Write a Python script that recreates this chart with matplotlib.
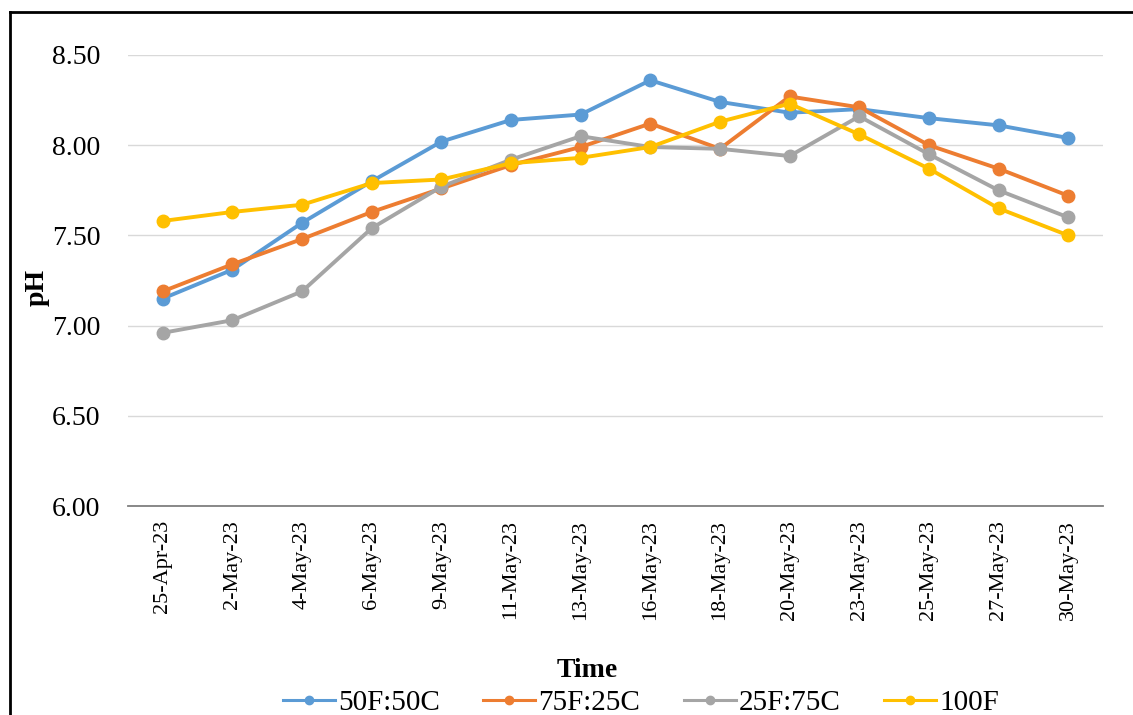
import matplotlib
matplotlib.use('Agg')
import matplotlib.pyplot as plt
from matplotlib.lines import Line2D

plt.rcParams['font.family'] = ['Liberation Serif', 'DejaVu Serif']

# sampling dates and pH readings per feed ratio
dates = ['25-Apr-23', '2-May-23', '4-May-23', '6-May-23', '9-May-23', '11-May-23', '13-May-23',
         '16-May-23', '18-May-23', '20-May-23', '23-May-23', '25-May-23', '27-May-23', '30-May-23']
ph_50f_50c = [7.15, 7.31, 7.57, 7.80, 8.02, 8.14, 8.17, 8.36, 8.24, 8.18, 8.20, 8.15, 8.11, 8.04]
ph_75f_25c = [7.19, 7.34, 7.48, 7.63, 7.76, 7.89, 7.99, 8.12, 7.98, 8.27, 8.21, 8.00, 7.87, 7.72]
ph_25f_75c = [6.96, 7.03, 7.19, 7.54, 7.77, 7.92, 8.05, 7.99, 7.98, 7.94, 8.16, 7.95, 7.75, 7.60]
ph_100f = [7.58, 7.63, 7.67, 7.79, 7.81, 7.90, 7.93, 7.99, 8.13, 8.23, 8.06, 7.87, 7.65, 7.50]

series = [('50F:50C', ph_50f_50c, '#5B9BD5'),
          ('75F:25C', ph_75f_25c, '#ED7D31'),
          ('25F:75C', ph_25f_75c, '#A5A5A5'),
          ('100F', ph_100f, '#FFC000')]

fig = plt.figure(figsize=(11.33, 7.15), dpi=100)
ax = fig.add_axes([128 / 1133, 1 - 506 / 715, (1103 - 128) / 1133, (506 - 55) / 715])

x = list(range(len(dates)))
handles = []
for name, vals, col in series:
    ax.plot(x, vals, color=col, lw=2.8, marker='o', ms=9, solid_capstyle='round')
    # smaller line/marker for the legend key
    handles.append(Line2D([], [], color=col, lw=2.2, marker='o', ms=6, label=name))

ax.set_xlim(-0.5, len(dates) - 0.5)
ax.set_ylim(6.0, 8.5)
yt = [6.0, 6.5, 7.0, 7.5, 8.0, 8.5]
ax.set_yticks(yt)
ax.set_yticklabels(['%.2f' % v for v in yt], fontsize=20)
ax.set_xticks(x)
ax.set_xticklabels(dates, rotation=90, fontsize=16)
ax.tick_params(axis='both', length=0)
ax.tick_params(axis='y', pad=20)
ax.tick_params(axis='x', pad=10)
ax.grid(axis='y', color='#D9D9D9', lw=1)
ax.set_axisbelow(True)
for s in ['top', 'right', 'left']:
    ax.spines[s].set_visible(False)
ax.spines['bottom'].set_color('#7F7F7F')
ax.spines['bottom'].set_linewidth(1.3)

ax.set_ylabel('pH', fontsize=20, fontweight='bold', labelpad=0)
ax.yaxis.set_label_coords(-78 / 975, (506 - 287) / 451)
ax.set_xlabel('Time', fontsize=20, fontweight='bold')
ax.xaxis.set_label_coords((587 - 128) / 975, -(658 - 506) / 451)

fig.legend(handles=handles, loc='center', bbox_to_anchor=(641 / 1133, 1 - 703 / 715), ncol=4,
           frameon=False, fontsize=21, handlelength=1.78, handletextpad=0.1, columnspacing=1.5)

# outer border of the chart area
x0 = 10 / 1133
y0 = 1 - 12 / 715
fig.add_artist(Line2D([x0, x0], [0, y0], transform=fig.transFigure, color='black', lw=2))
fig.add_artist(Line2D([x0, 1], [y0, y0], transform=fig.transFigure, color='black', lw=2))

fig.savefig('out.png', dpi=100, facecolor='white')
